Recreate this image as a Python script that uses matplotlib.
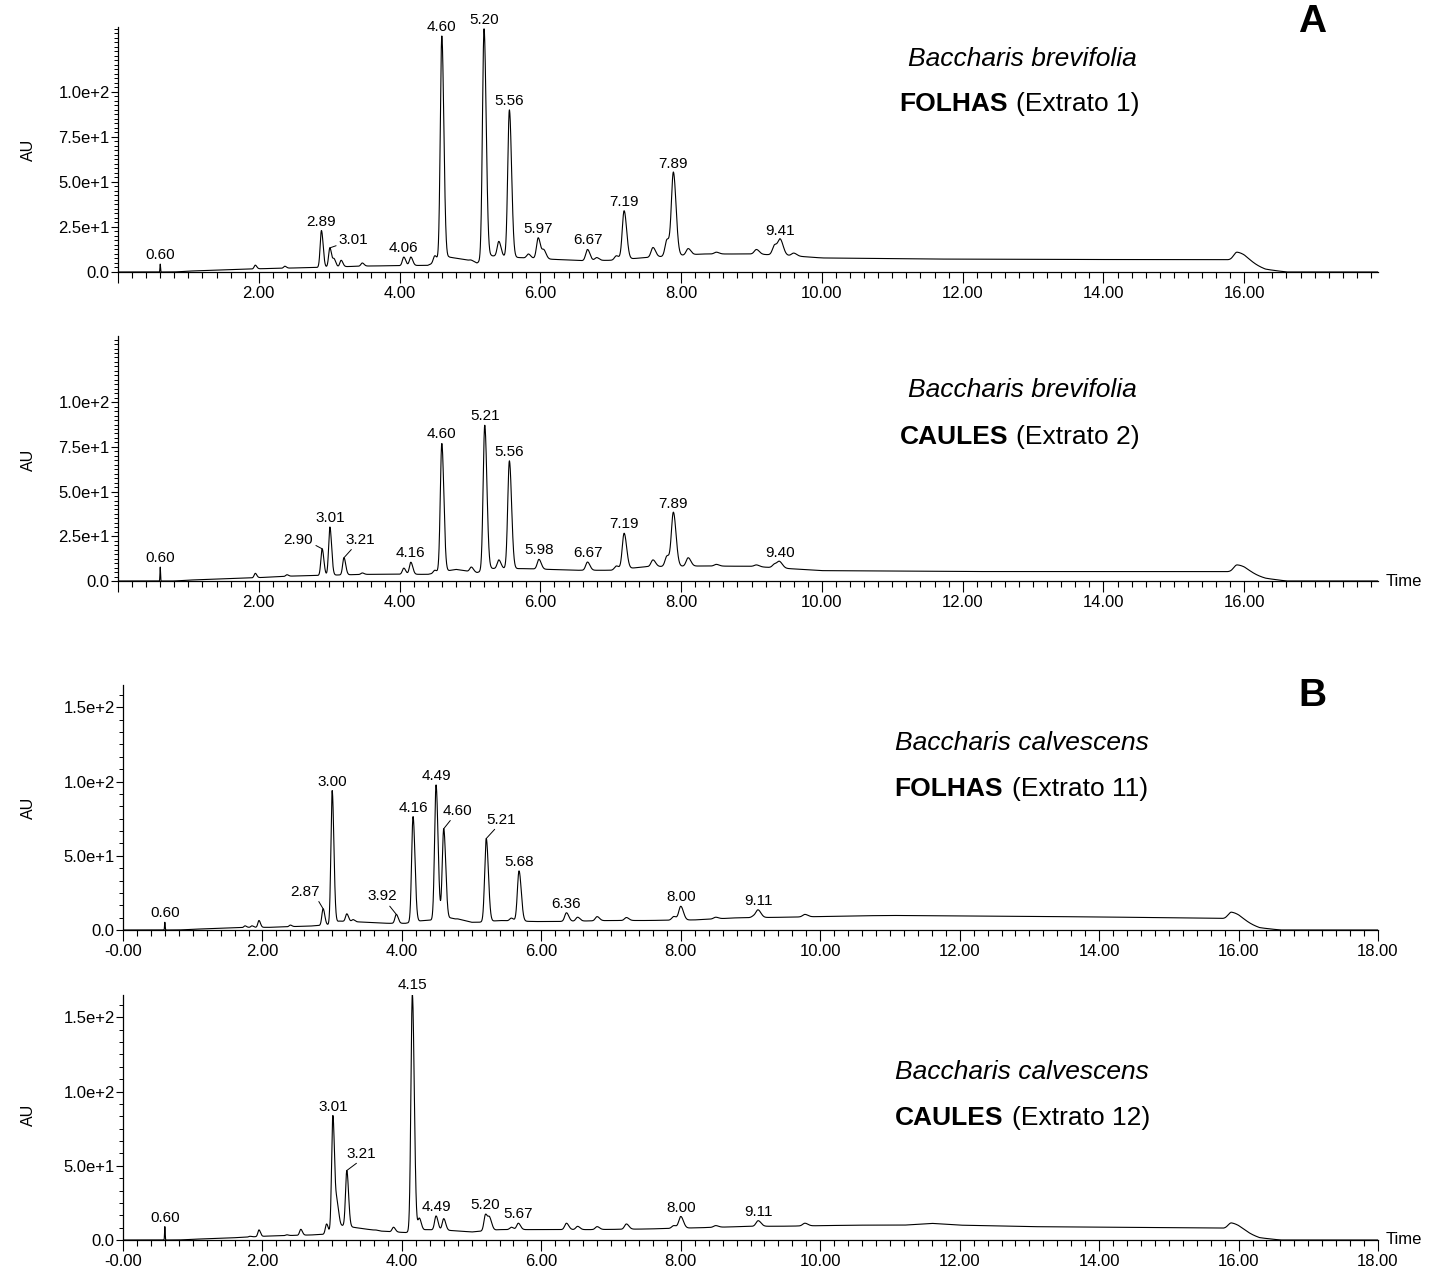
import numpy as np
import matplotlib.pyplot as plt
from matplotlib.ticker import MultipleLocator, AutoMinorLocator, FuncFormatter

plt.rcParams['font.family'] = ['Liberation Sans', 'DejaVu Sans']

W, H = 1445, 1270

# ---- Extrato 1 (B. brevifolia, folhas) ----
P1_RT = [0.60, 1.95, 2.37, 2.89, 3.01, 3.07, 3.17, 3.47, 4.06, 4.16, 4.50, 4.60, 5.02, 5.20,
         5.41, 5.56, 5.83, 5.97, 6.05, 6.67, 6.80, 7.08, 7.19, 7.60, 7.80, 7.89, 8.10, 8.50,
         9.07, 9.33, 9.41, 9.60, 15.90]
P1_AU = [4.4, 3.8, 3.2, 23.0, 13.4, 7.0, 6.5, 5.0, 8.3, 8.3, 9.0, 131.0, 6.6, 135.0,
         17.0, 90.0, 10.0, 19.0, 12.0, 12.5, 8.0, 9.0, 34.0, 13.6, 18.0, 55.0, 13.0, 11.0,
         12.5, 15.0, 17.5, 10.5, 11.0]
P1_BASE_T = [0, 0.8, 1.0, 2.0, 2.8, 3.5, 4.4, 4.7, 5.0, 5.1, 5.3, 5.7, 6.2, 6.6, 7.0, 7.5,
             8.3, 9.0, 9.5, 10.0, 11.5, 13.0, 15.75, 16.0, 16.3, 16.6, 17.9]
P1_BASE_AU = [0, 0, 0.5, 1.8, 2.5, 3.3, 3.7, 8.3, 6.4, 5.0, 9.0, 8.0, 7.0, 6.3, 6.5, 8.0,
              10.0, 10.0, 9.2, 7.8, 7.2, 7.0, 6.8, 5.5, 1.5, 0, 0]
P1_LABELS = [0.60, 2.89, 3.01, 4.06, 4.60, 5.20, 5.56, 5.97, 6.67, 7.19, 7.89, 9.41]

# ---- Extrato 2 (B. brevifolia, caules) ----
P2_RT = [0.60, 1.95, 2.40, 2.90, 3.01, 3.21, 3.47, 4.06, 4.16, 4.50, 4.60, 5.02, 5.21,
         5.41, 5.56, 5.98, 6.67, 7.08, 7.19, 7.60, 7.80, 7.89, 8.10, 8.50, 9.07, 9.33,
         9.40, 15.90]
P2_AU = [7.8, 4.3, 3.5, 18.0, 30.2, 13.0, 4.5, 7.2, 10.5, 6.0, 76.9, 7.8, 87.1,
         11.8, 67.2, 12.1, 10.6, 8.4, 26.7, 11.8, 14.0, 38.2, 13.0, 9.3, 9.0, 9.5,
         10.5, 9.0]
P2_BASE_T = [0, 0.8, 1.0, 2.0, 2.5, 3.5, 4.0, 4.4, 4.8, 5.1, 5.3, 5.8, 6.5, 7.0, 7.5,
             8.3, 9.0, 10.0, 12.0, 15.75, 16.0, 16.3, 16.6, 17.9]
P2_BASE_AU = [0, 0, 0.5, 1.9, 2.8, 3.7, 3.8, 3.7, 6.5, 4.7, 7.0, 6.9, 6.0, 6.0, 8.0,
              8.4, 8.2, 5.8, 5.3, 5.2, 4.5, 1.5, 0, 0]
P2_LABELS = [0.60, 2.90, 3.01, 3.21, 4.16, 4.60, 5.21, 5.56, 5.98, 6.67, 7.19, 7.89, 9.40]

# ---- Extrato 11 (B. calvescens, folhas) ----
P3_RT = [0.60, 1.75, 1.85, 1.95, 2.40, 2.87, 3.00, 3.21, 3.30, 3.92, 4.16, 4.49, 4.60,
         4.70, 5.21, 5.57, 5.68, 6.36, 6.52, 6.80, 7.22, 7.90, 8.00, 8.50, 9.05, 9.11,
         9.78, 15.90]
P3_AU = [5.2, 2.8, 2.8, 6.4, 3.3, 14.3, 93.9, 10.9, 7.0, 10.5, 76.4, 97.7, 68.2,
         8.0, 61.6, 8.0, 39.8, 11.6, 8.6, 9.0, 8.4, 9.1, 15.9, 8.6, 9.5, 13.2,
         10.5, 12.0]
P3_BASE_T = [0, 0.8, 1.0, 1.8, 2.1, 2.7, 2.95, 3.1, 3.5, 3.8, 4.05, 4.3, 4.8, 5.0, 5.1,
             5.4, 5.9, 6.2, 7.0, 7.5, 8.2, 8.8, 9.5, 10.5, 11.0, 12.0, 14.0, 15.75, 16.0,
             16.3, 16.6, 18.0]
P3_BASE_AU = [0, 0, 0.5, 1.8, 1.8, 2.7, 3.5, 6.0, 5.2, 4.5, 4.5, 6.4, 7.5, 5.2, 5.2,
              6.4, 5.7, 5.7, 6.4, 6.4, 6.8, 8.2, 8.6, 9.5, 9.8, 9.5, 8.8, 7.8, 6.0,
              1.5, 0, 0]
P3_LABELS = [0.60, 2.87, 3.00, 3.92, 4.16, 4.49, 4.60, 5.21, 5.68, 6.36, 8.00, 9.11]

# ---- Extrato 12 (B. calvescens, caules) ----
P4_RT = [0.60, 1.82, 1.95, 2.35, 2.55, 2.92, 3.01, 3.07, 3.21, 3.62, 3.88, 4.15, 4.25,
         4.49, 4.60, 5.20, 5.26, 5.57, 5.67, 6.36, 6.52, 6.80, 7.22, 7.90, 8.00, 8.50,
         9.11, 9.78, 15.90]
P4_AU = [9.0, 2.5, 6.8, 3.5, 7.2, 10.8, 83.8, 24.0, 46.8, 6.8, 8.6, 165.5, 14.6,
         16.2, 14.4, 17.2, 14.0, 8.6, 11.3, 11.3, 9.2, 9.0, 10.8, 9.7, 15.8, 9.7,
         13.0, 11.3, 11.5]
P4_BASE_T = [0, 0.8, 1.0, 1.5, 2.1, 2.7, 2.95, 3.1, 3.4, 3.7, 4.05, 4.35, 4.75, 5.0,
             5.4, 6.0, 6.7, 7.5, 8.3, 9.0, 9.5, 10.5, 11.2, 11.6, 12.0, 13.0, 15.75,
             16.0, 16.3, 16.6, 18.0]
P4_BASE_AU = [0, 0, 0.5, 1.3, 2.7, 3.4, 4.0, 10.0, 7.9, 6.0, 5.0, 7.0, 6.3, 5.4,
              7.0, 7.0, 7.0, 7.4, 8.3, 9.2, 9.3, 10.0, 10.0, 11.2, 10.0, 9.0, 8.0,
              6.0, 1.5, 0, 0]
P4_LABELS = [0.60, 3.01, 3.21, 4.15, 4.49, 5.20, 5.67, 8.00, 9.11]

# labels drawn off to the side with a short leader: (dx, dy, ha, relpos) in pixels
LEADERS = [
    {3.01: (9, 8, 'left', (0.0, 0.15))},
    {2.90: (-9, 9, 'right', (1.0, 0.2)), 3.21: (1, 18, 'left', (0.3, 0.0))},
    {2.87: (-3, 17, 'right', (0.9, 0.0)), 3.92: (1, 18, 'right', (0.67, 0.0)),
     4.60: (-1, 18, 'left', (0.33, 0.0)), 5.21: (0, 19, 'left', (0.37, 0.0))},
    {3.21: (0, 17, 'left', (0.45, 0.0))},
]

PANELS = [
    dict(rt=P1_RT, au=P1_AU, bt=P1_BASE_T, bau=P1_BASE_AU, labels=P1_LABELS,
         box=(118, 27, 1378, 272), xmax=17.9, ymax=136, ymaj=25, ymin_div=10,
         zero='', species='Baccharis brevifolia', part='FOLHAS', ext='(Extrato 1)',
         sp_y=59, ex_y=104, bold_r=1008, ext_l=1016, au_y=150, time=False),
    dict(rt=P2_RT, au=P2_AU, bt=P2_BASE_T, bau=P2_BASE_AU, labels=P2_LABELS,
         box=(118, 336, 1378, 581), xmax=17.9, ymax=137, ymaj=25, ymin_div=10,
         zero='', species='Baccharis brevifolia', part='CAULES', ext='(Extrato 2)',
         sp_y=390, ex_y=437, bold_r=1008, ext_l=1016, au_y=460, time=True),
    dict(rt=P3_RT, au=P3_AU, bt=P3_BASE_T, bau=P3_BASE_AU, labels=P3_LABELS,
         box=(123, 685, 1378, 930), xmax=18.0, ymax=165, ymaj=50, ymin_div=6,
         zero='-0.00', species='Baccharis calvescens', part='FOLHAS', ext='(Extrato 11)',
         sp_y=743, ex_y=789, bold_r=1003, ext_l=1012, au_y=808, time=False),
    dict(rt=P4_RT, au=P4_AU, bt=P4_BASE_T, bau=P4_BASE_AU, labels=P4_LABELS,
         box=(123, 995, 1378, 1240), xmax=18.0, ymax=165, ymaj=50, ymin_div=6,
         zero='-0.00', species='Baccharis calvescens', part='CAULES', ext='(Extrato 12)',
         sp_y=1072, ex_y=1118, bold_r=1003, ext_l=1012, au_y=1115, time=True),
]


def peak_sigma(r):
    if r < 1:
        return 0.004, 0.004
    if r > 15:
        return 0.05, 0.15
    sl = 0.012 + 0.002 * r
    return sl, sl * 1.35


def trace(t, rt, au, bt, bau):
    y = np.interp(t, bt, bau)
    for r, a in zip(rt, au):
        amp = a - np.interp(r, bt, bau)
        sl, sr = peak_sigma(r)
        s = np.where(t < r, sl, sr)
        y = y + amp * np.exp(-0.5 * ((t - r) / s) ** 2)
    return y


def ytick_fmt(v, pos):
    if abs(v) < 1e-9:
        return '0.0'
    m, e = '{:.1e}'.format(v).split('e')
    return '{}e+{}'.format(m, int(e))


def fx(px):
    return px / W


def fy(py):
    return 1 - py / H


fig = plt.figure(figsize=(W / 100, H / 100), dpi=100)

for i, p in enumerate(PANELS):
    x0, y0, x1, y1 = p['box']
    ax = fig.add_axes([fx(x0), fy(y1), (x1 - x0) / W, (y1 - y0) / H])
    t = np.linspace(0, p['xmax'], 24000)
    y = trace(t, p['rt'], p['au'], p['bt'], p['bau'])
    ax.plot(t, y, color='black', lw=0.8)
    ax.set_xlim(0, p['xmax'])
    ax.set_ylim(0, p['ymax'])

    for s in ['top', 'right']:
        ax.spines[s].set_visible(False)
    for s in ['left', 'bottom']:
        ax.spines[s].set_linewidth(0.9)

    ax.xaxis.set_major_locator(MultipleLocator(2))
    ax.xaxis.set_minor_locator(MultipleLocator(0.2))
    zero = p['zero']
    ax.xaxis.set_major_formatter(FuncFormatter(
        lambda v, pos, z=zero: z if abs(v) < 1e-9 else '{:.2f}'.format(v)))
    ax.yaxis.set_major_locator(MultipleLocator(p['ymaj']))
    ax.yaxis.set_minor_locator(AutoMinorLocator(p['ymin_div']))
    ax.yaxis.set_major_formatter(FuncFormatter(ytick_fmt))
    if p['ymaj'] == 25:
        ax.set_yticks([0, 25, 50, 75, 100])
    ax.tick_params(axis='x', which='major', length=8, width=0.8, labelsize=12, pad=2)
    ax.tick_params(axis='x', which='minor', length=4, width=0.8)
    ax.tick_params(axis='y', which='major', length=5, width=0.8, labelsize=12, pad=1)
    ax.tick_params(axis='y', which='minor', length=3, width=0.7)

    # peak labels
    leaders = LEADERS[i]
    for r in p['labels']:
        k = p['rt'].index(r)
        top = p['au'][k]
        txt = '{:.2f}'.format(r)
        if r in leaders:
            dx, dy, ha, rp = leaders[r]
            ax.annotate(txt, xy=(r, top), xytext=(dx, dy), textcoords='offset pixels',
                        ha=ha, va='center', fontsize=11, annotation_clip=False,
                        arrowprops=dict(arrowstyle='-', lw=0.7, color='black',
                                        shrinkA=0, shrinkB=0, relpos=rp))
        else:
            ax.annotate(txt, xy=(r, top), xytext=(0, 2), textcoords='offset pixels',
                        ha='center', va='bottom', fontsize=11, annotation_clip=False)

    fig.text(fx(28), fy(p['au_y']), 'AU', rotation=90, ha='center', va='center',
             fontsize=11.5)
    fig.text(fx(1022), fy(p['sp_y']), p['species'], style='italic', ha='center',
             va='center', fontsize=19)
    fig.text(fx(p['bold_r']), fy(p['ex_y']), p['part'], weight='bold', ha='right',
             va='center', fontsize=19)
    fig.text(fx(p['ext_l']), fy(p['ex_y']), p['ext'], ha='left', va='center',
             fontsize=19)
    if p['time']:
        fig.text(fx(1386), fy(y1), 'Time', ha='left', va='center', fontsize=12)

fig.text(fx(1312), fy(22), 'A', weight='bold', ha='center', va='center', fontsize=28)
fig.text(fx(1312), fy(696), 'B', weight='bold', ha='center', va='center', fontsize=28)

fig.savefig('out.png', dpi=100)
